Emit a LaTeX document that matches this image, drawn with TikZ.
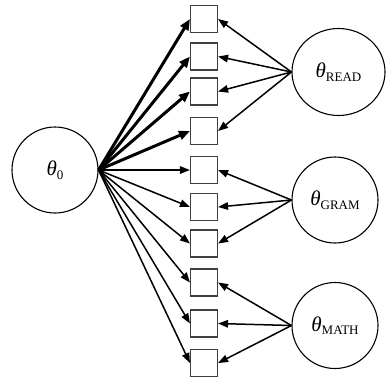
\documentclass[tikz,border=0pt]{standalone}
\usepackage{fontspec}
\setmainfont{Liberation Serif}
\usetikzlibrary{arrows.meta,shapes.geometric}
\newcommand{\thlabel}[1]{{\fontsize{21}{21}\selectfont\itshape θ}{\fontsize{13}{13}\selectfont\raisebox{-3.5pt}{#1}}}
\tikzset{
  latent/.style={draw=black, line width=1.1pt, circle, minimum size=86pt, inner sep=0pt},
  latentell/.style={draw=black, line width=1.1pt, ellipse, minimum width=93pt, minimum height=87pt, inner sep=0pt},
  obs/.style={draw=black!75, line width=1.1pt, rectangle, minimum size=27pt, inner sep=0pt},
  arr/.style={line width=1.5pt, -{Triangle[length=10pt,width=7.5pt]}},
  boldarr/.style={line width=3pt, -{Triangle[length=11pt,width=9pt]}}
}
\begin{document}
\begin{tikzpicture}[x=1pt,y=-1pt]
\useasboundingbox (0,0) rectangle (387,378);
\node[latent] (t0) at (55,170) {\thlabel{0}};
\node[latentell] (read) at (338.5,72) {\thlabel{READ}};
\node[latent] (gram) at (335,200) {\thlabel{GRAM}};
\node[latent] (math) at (335,325.5) {\thlabel{MATH}};
\node[obs] (b1) at (204,19) {};
\node[obs] (b2) at (204,56.5) {};
\node[obs] (b3) at (204,91.5) {};
\node[obs] (b4) at (204,131) {};
\node[obs] (b5) at (204,170) {};
\node[obs] (b6) at (204,207) {};
\node[obs] (b7) at (204,243.5) {};
\node[obs] (b8) at (204,282.5) {};
\node[obs] (b9) at (204,323.5) {};
\node[obs] (b10) at (204,363) {};
\foreach \b in {b1,b2,b3,b4} \draw[boldarr] (t0.east) -- (\b.west);
\foreach \b in {b5,b6,b7,b8,b9,b10} \draw[arr] (t0.east) -- (\b.west);
\foreach \b in {b1,b2,b3,b4} \draw[arr] (read.west) -- (\b.east);
\foreach \b in {b5,b6,b7} \draw[arr] (gram.west) -- (\b.east);
\foreach \b in {b8,b9,b10} \draw[arr] (math.west) -- (\b.east);
\end{tikzpicture}
\end{document}
